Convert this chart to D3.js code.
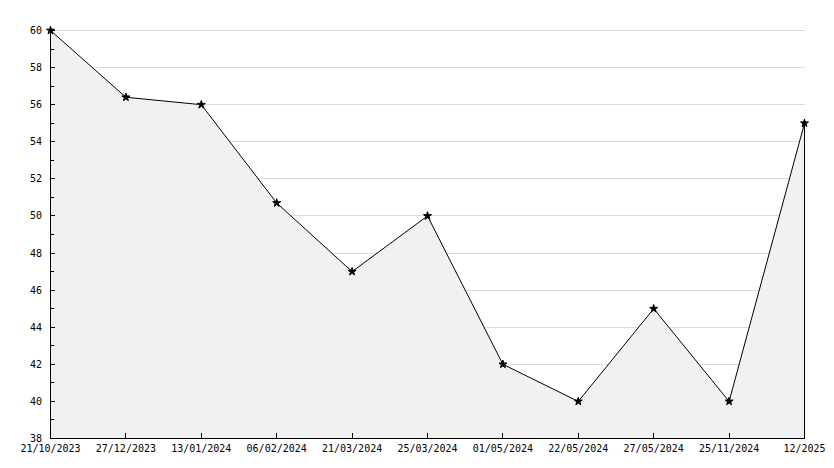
<!DOCTYPE html>
<html>
<head>
<meta charset="utf-8">
<script src="https://cdn.jsdelivr.net/npm/d3@7"></script>
<style>
  body { margin: 0; background: #fff; }
  svg { display: block; }
  text { font-family: "DejaVu Sans Mono", monospace; font-size: 10px; fill: #000; }
</style>
</head>
<body>
<svg id="chart" width="834" height="468"></svg>
<script>
// data
var dates = ["21/10/2023", "27/12/2023", "13/01/2024", "06/02/2024", "21/03/2024",
  "25/03/2024", "01/05/2024", "22/05/2024", "27/05/2024", "25/11/2024", "12/2025"];
var values = [60, 56.4, 56, 50.7, 47, 50, 42, 40, 45, 40, 55];
var yTicks = [38, 40, 42, 44, 46, 48, 50, 52, 54, 56, 58, 60];
var yMinor = [39, 41, 43, 45, 47, 49, 51, 53, 55, 57, 59];

var svg = d3.select("#chart");
var plotL = 50, plotR = 805, plotT = 30, plotB = 438;

var x = d3.scalePoint().domain(dates).range([plotL + 0.5, plotR - 0.5]);
var y = d3.scaleLinear().domain([38, 60]).range([plotB + 0.5, plotT + 0.5]);

var pts = dates.map(function(d, i) { return {d: d, v: values[i]}; });

// grid
svg.append("g").selectAll("line")
  .data(yTicks.filter(function(t) { return t > 38; }))
  .enter().append("line")
  .attr("x1", plotL).attr("x2", plotR)
  .attr("y1", function(t) { return Math.floor(y(t)) + 0.5; })
  .attr("y2", function(t) { return Math.floor(y(t)) + 0.5; })
  .attr("stroke", "#dcdcdc");

// area
var area = d3.area()
  .x(function(p) { return x(p.d); })
  .y0(plotB)
  .y1(function(p) { return y(p.v); });
svg.append("path").datum(pts)
  .attr("d", area)
  .attr("fill", "#f1f1f1");

// right edge of area
svg.append("line")
  .attr("x1", plotR - 0.5).attr("x2", plotR - 0.5)
  .attr("y1", y(values[values.length - 1])).attr("y2", plotB)
  .attr("stroke", "#000");

// line
var line = d3.line()
  .x(function(p) { return x(p.d); })
  .y(function(p) { return y(p.v); });
svg.append("path").datum(pts)
  .attr("d", line)
  .attr("fill", "none")
  .attr("stroke", "#000")
  .attr("stroke-width", 1);

// markers
svg.append("g").selectAll("path")
  .data(pts).enter().append("path")
  .attr("transform", function(p) { return "translate(" + x(p.d) + "," + y(p.v) + ")"; })
  .attr("d", d3.symbol().type(d3.symbolStar).size(20))
  .attr("fill", "#000")
  .attr("stroke", "#000")
  .attr("stroke-width", 1);

// y axis
var yAxis = svg.append("g");
yAxis.append("line")
  .attr("x1", plotL + 0.5).attr("x2", plotL + 0.5)
  .attr("y1", plotT).attr("y2", plotB + 0.5)
  .attr("stroke", "#000");
yAxis.selectAll(".maj").data(yTicks).enter().append("line")
  .attr("x1", plotL).attr("x2", plotL + 5)
  .attr("y1", function(t) { return Math.floor(y(t)) + 0.5; })
  .attr("y2", function(t) { return Math.floor(y(t)) + 0.5; })
  .attr("stroke", "#000");
yAxis.selectAll(".min").data(yMinor).enter().append("line")
  .attr("x1", plotL).attr("x2", plotL + 4)
  .attr("y1", function(t) { return Math.floor(y(t)) + 0.5; })
  .attr("y2", function(t) { return Math.floor(y(t)) + 0.5; })
  .attr("stroke", "#000");
yAxis.selectAll("text").data(yTicks).enter().append("text")
  .attr("x", plotL - 8)
  .attr("y", function(t) { return y(t); })
  .attr("dy", "0.35em")
  .attr("text-anchor", "end")
  .text(function(t) { return t; });

// x axis
var xAxis = svg.append("g");
xAxis.append("line")
  .attr("x1", plotL).attr("x2", plotR)
  .attr("y1", plotB + 0.5).attr("y2", plotB + 0.5)
  .attr("stroke", "#000");
xAxis.selectAll(".tk").data(dates).enter().append("line")
  .attr("x1", function(d) { return Math.floor(x(d)) + 0.5; })
  .attr("x2", function(d) { return Math.floor(x(d)) + 0.5; })
  .attr("y1", plotB).attr("y2", plotB - 5)
  .attr("stroke", "#000");
xAxis.selectAll("text").data(dates).enter().append("text")
  .attr("x", function(d) { return x(d); })
  .attr("y", plotB + 14)
  .attr("text-anchor", "middle")
  .text(function(d) { return d; });
</script>
</body>
</html>
